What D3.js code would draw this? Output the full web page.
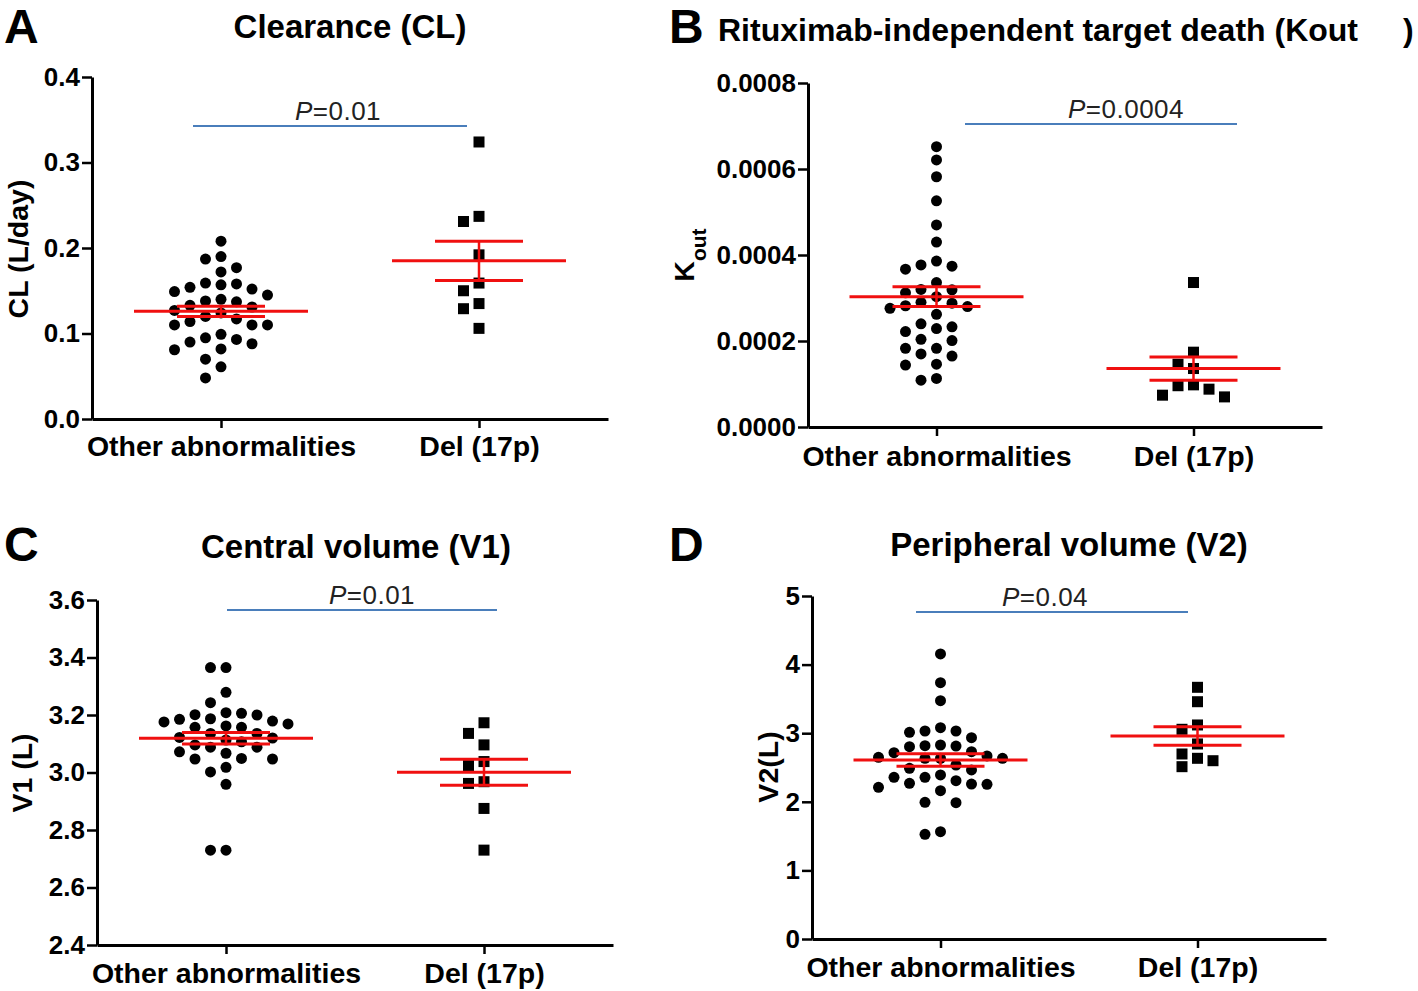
<!DOCTYPE html>
<html>
<head>
<meta charset="utf-8">
<script src="https://cdn.jsdelivr.net/npm/d3@7"></script>
<style>
  body { margin: 0; background: #fff; }
  svg { display: block; }
  text { font-family: "Liberation Sans", Arial, sans-serif; }
</style>
</head>
<body>
<svg id="svg" width="1418" height="991"></svg>
<script>
// categories
var groups = ["Other abnormalities", "Del (17p)"];

// A - clearance (L/day)
var clOther = [0.208, 0.187, 0.190, 0.172, 0.177, 0.158, 0.157, 0.152, 0.149, 0.154, 0.159, 0.145,
  0.140, 0.137, 0.138, 0.131, 0.133, 0.127, 0.120, 0.124, 0.114, 0.110, 0.110, 0.110, 0.117,
  0.099, 0.093, 0.088, 0.090, 0.082, 0.095, 0.081, 0.070, 0.061, 0.048];
var clDel = [0.324, 0.237, 0.231, 0.192, 0.159, 0.150, 0.135, 0.129, 0.106];
var clMean = [0.126, 0.185];
var clSem = [0.006, 0.023];
var clTicks = [0, 0.1, 0.2, 0.3, 0.4];

// B - Kout
var koutOther = [0.000652, 0.000621, 0.000582, 0.000526, 0.000470, 0.000430, 0.000377, 0.000367,
  0.000374, 0.000386, 0.000336, 0.000320, 0.000312, 0.000319, 0.000303, 0.000288, 0.000280,
  0.000276, 0.000282, 0.000290, 0.000262, 0.000240, 0.000229, 0.000222, 0.000233, 0.000201,
  0.000204, 0.000183, 0.000183, 0.000170, 0.000165, 0.000144, 0.000146, 0.000109, 0.000113];
var koutDel = [0.000336, 0.000174, 0.000146, 0.000136, 0.000098, 0.000088, 0.000070, 0.000074, 0.000096];
var koutMean = [0.000303, 0.000136];
var koutSem = [0.000023, 0.000027];
var koutTicks = [0, 0.0002, 0.0004, 0.0006, 0.0008];

// C - V1 (L)
var v1Other = [3.365, 3.365, 3.279, 3.243, 3.206, 3.201, 3.200, 3.208, 3.185, 3.176, 3.187, 3.169,
  3.179, 3.162, 3.157, 3.157, 3.136, 3.136, 3.122, 3.113, 3.120, 3.107, 3.096, 3.088, 3.088,
  3.067, 3.072, 3.047, 3.047, 3.049, 3.018, 3.002, 2.959, 2.730, 2.730];
var v1Del = [3.173, 3.136, 3.096, 3.038, 3.024, 2.962, 2.968, 2.875, 2.730];
var v1Mean = [3.119, 3.001];
var v1Sem = [0.020, 0.045];
var v1Ticks = [2.4, 2.6, 2.8, 3.0, 3.2, 3.4, 3.6];

// D - V2 (L)
var v2Other = [4.155, 3.736, 3.474, 3.080, 3.032, 3.013, 3.032, 2.935, 2.828, 2.813, 2.803, 2.818,
  2.730, 2.716, 2.649, 2.634, 2.634, 2.634, 2.668, 2.536, 2.488, 2.464, 2.391, 2.357, 2.357,
  2.308, 2.270, 2.255, 2.259, 2.211, 2.162, 1.993, 1.987, 1.526, 1.564];
var v2Del = [3.669, 3.459, 3.120, 3.057, 2.843, 2.697, 2.634, 2.599, 2.512];
var v2Mean = [2.609, 2.959];
var v2Sem = [0.092, 0.134];
var v2Ticks = [0, 1, 2, 3, 4, 5];

var pValues = ["0.01", "0.0004", "0.01", "0.04"];

const svg = d3.select('#svg');
var red = "#f01010";
var blue = "#4a7ebb";
var font = "'Liberation Sans', Arial, sans-serif";

var panels = [
  {letter: "A", title: "Clearance (CL)", ylab: "CL (L/day)", other: clOther, del: clDel, mean: clMean, sem: clSem,
   ticks: clTicks, fmt: d3.format(".1f"), p: pValues[0],
   left: 92, right: 608, top: 77, bottom: 419, line: [193, 467, 126], px: 338, lx: 4, ly: 43, tx: 350, ty: 38, yx: 28, yy: 249, labPad: 8},
  {letter: "B", title: "Rituximab-independent target death (Kout", ylab: "K", other: koutOther, del: koutDel, mean: koutMean, sem: koutSem,
   ticks: koutTicks, fmt: d3.format(".4f"), p: pValues[1],
   left: 808, right: 1322, top: 83, bottom: 427, line: [965, 1237, 124], px: 1126, lx: 669, ly: 43, tx: 718, ty: 41, yx: 694, yy: 255, labPad: 10},
  {letter: "C", title: "Central volume (V1)", ylab: "V1 (L)", other: v1Other, del: v1Del, mean: v1Mean, sem: v1Sem,
   ticks: v1Ticks, fmt: d3.format(".1f"), p: pValues[2],
   left: 97, right: 613, top: 600, bottom: 945, line: [227, 497, 610], px: 372, lx: 4, ly: 561, tx: 356, ty: 558, yx: 32, yy: 773, labPad: 9},
  {letter: "D", title: "Peripheral volume (V2)", ylab: "V2(L)", other: v2Other, del: v2Del, mean: v2Mean, sem: v2Sem,
   ticks: v2Ticks, fmt: d3.format("d"), p: pValues[3],
   left: 812, right: 1326, top: 596, bottom: 939, line: [916, 1188, 612], px: 1045, lx: 669, ly: 561, tx: 1069, ty: 556, yx: 778, yy: 767, labPad: 9}
];

// simple column scatter (Prism-like): columns at fixed step, avoid same-column overlap
function swarm(values, y, cx) {
  var step = 15.5, gap = 12.5;
  var order = values.map(function(v, i){ return {v: v, i: i}; })
    .sort(function(a, b){ return b.v - a.v; });
  var placed = [];
  order.forEach(function(d) {
    var py = y(d.v);
    for (var n = 0; n < 20; n++) {
      var k = n === 0 ? 0 : (n % 2 ? -Math.ceil(n / 2) : Math.ceil(n / 2));
      var hit = placed.some(function(p){ return p.k === k && Math.abs(p.y - py) < gap; });
      if (!hit) { placed.push({k: k, y: py, x: cx + k * step, v: d.v}); break; }
    }
  });
  return placed;
}

panels.forEach(function(cfg) {
  var g = svg.append("g");
  var y = d3.scaleLinear().domain([cfg.ticks[0], cfg.ticks[cfg.ticks.length - 1]]).range([cfg.bottom, cfg.top]);
  var x = d3.scalePoint().domain(groups).range([cfg.left, cfg.right]).padding(0.5);

  // letter + title
  g.append("text").attr("x", cfg.lx).attr("y", cfg.ly).text(cfg.letter)
    .style("font-size", "48px").style("font-weight", "bold");
  g.append("text").attr("x", cfg.tx).attr("y", cfg.ty)
    .attr("text-anchor", cfg.letter === "B" ? "start" : "middle")
    .style("font-size", cfg.letter === "B" ? "32px" : "33px").style("font-weight", "bold").text(cfg.title);
  if (cfg.letter === "B") {
    g.append("text").attr("x", 1403).attr("y", cfg.ty)
      .style("font-size", "32px").style("font-weight", "bold").text(")");
  }

  // y axis
  var ya = g.append("g").attr("transform", "translate(" + cfg.left + ",0)")
    .call(d3.axisLeft(y).tickValues(cfg.ticks).tickFormat(cfg.fmt).tickSize(10).tickSizeOuter(0).tickPadding(2));
  ya.select(".domain").attr("stroke-width", 3);
  ya.selectAll(".tick line").attr("stroke-width", 2.5);
  ya.selectAll(".tick text").style("font-size", "26px").style("font-weight", "bold").attr("fill", "#000")
    .style("font-family", font);

  // x axis
  var xa = g.append("g").attr("transform", "translate(0," + cfg.bottom + ")")
    .call(d3.axisBottom(x).tickSize(9).tickSizeOuter(0).tickPadding(cfg.labPad));
  xa.select(".domain").attr("stroke-width", 3);
  xa.selectAll(".tick line").attr("stroke-width", 2.5);
  xa.selectAll(".tick text").style("font-size", "28.5px").style("font-weight", "bold").attr("fill", "#000")
    .style("font-family", font);

  // y label
  var yl = g.append("text").attr("transform", "translate(" + cfg.yx + "," + cfg.yy + ") rotate(-90)")
    .attr("text-anchor", "middle").style("font-size", "28.5px").style("font-weight", "bold").text(cfg.ylab);
  if (cfg.letter === "B") {
    yl.append("tspan").attr("baseline-shift", "sub").style("font-size", "21px").text("out");
  }

  // significance line + P
  g.append("line").attr("x1", cfg.line[0]).attr("x2", cfg.line[1]).attr("y1", cfg.line[2]).attr("y2", cfg.line[2])
    .attr("stroke", blue).attr("stroke-width", 2.2);
  var pt = g.append("text").attr("x", cfg.px).attr("y", cfg.line[2] - 6).attr("text-anchor", "middle")
    .style("font-size", "26px").style("letter-spacing", "0.5px").attr("fill", "#222");
  pt.append("tspan").style("font-style", "italic").text("P");
  pt.append("tspan").text("=" + cfg.p);

  // points
  var c0 = x(groups[0]), c1 = x(groups[1]);
  g.selectAll("circle.pt").data(swarm(cfg.other, y, c0)).enter().append("circle")
    .attr("cx", function(d){ return d.x; }).attr("cy", function(d){ return d.y; })
    .attr("r", 5.5).attr("fill", "#000");
  g.selectAll("rect.pt").data(swarm(cfg.del, y, c1)).enter().append("rect")
    .attr("x", function(d){ return d.x - 5.5; }).attr("y", function(d){ return d.y - 5.5; })
    .attr("width", 11).attr("height", 11).attr("fill", "#000");

  // mean +/- SEM
  groups.forEach(function(grp, i) {
    var cx = x(grp), m = cfg.mean[i], s = cfg.sem[i];
    g.append("line").attr("x1", cx - 87).attr("x2", cx + 87).attr("y1", y(m)).attr("y2", y(m))
      .attr("stroke", red).attr("stroke-width", 3);
    [m - s, m + s].forEach(function(v) {
      g.append("line").attr("x1", cx - 44).attr("x2", cx + 44).attr("y1", y(v)).attr("y2", y(v))
        .attr("stroke", red).attr("stroke-width", 3);
    });
    g.append("line").attr("x1", cx).attr("x2", cx).attr("y1", y(m - s)).attr("y2", y(m + s))
      .attr("stroke", red).attr("stroke-width", 2.5);
  });
});
</script>
</body>
</html>
